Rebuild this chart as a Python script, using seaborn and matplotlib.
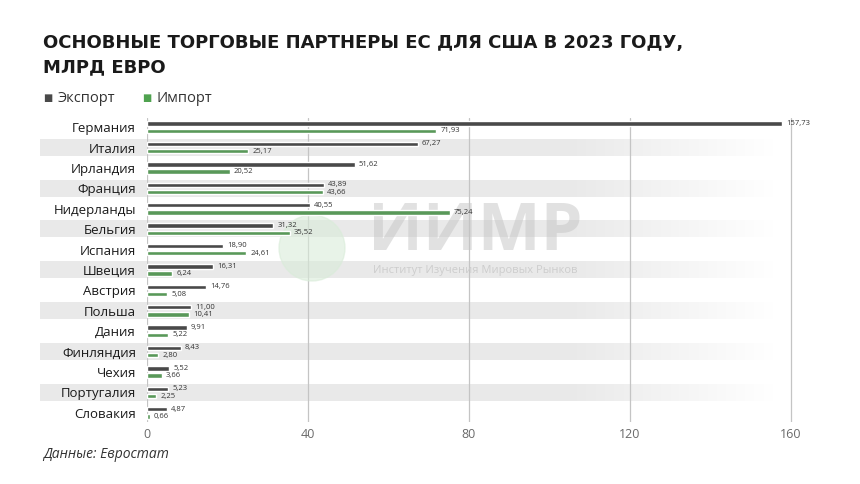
import numpy as np
import pandas as pd
import matplotlib.pyplot as plt
import seaborn as sns
from matplotlib.patches import Ellipse

# Data
countries = ['Германия', 'Италия', 'Ирландия', 'Франция', 'Нидерланды', 'Бельгия',
             'Испания', 'Швеция', 'Австрия', 'Польша', 'Дания', 'Финляндия',
             'Чехия', 'Португалия', 'Словакия']
export_vals = [157.73, 67.27, 51.62, 43.89, 40.55, 31.32, 18.90, 16.31,
               14.76, 11.00, 9.91, 8.43, 5.52, 5.23, 4.87]
import_vals = [71.93, 25.17, 20.52, 43.66, 75.24, 35.52, 24.61, 6.24,
               5.08, 10.41, 5.22, 2.80, 3.66, 2.25, 0.66]
series = ['Экспорт', 'Импорт']
x_ticks = [0, 40, 80, 120, 160]

df = pd.DataFrame({
    'country': countries * 2,
    'type': [series[0]] * len(countries) + [series[1]] * len(countries),
    'value': export_vals + import_vals,
})

sns.set_style('white')
plt.rcParams['font.family'] = ['Open Sans', 'DejaVu Sans']

dark = '#494949'
green = '#4fa24f'

fig = plt.figure(figsize=(8.6, 4.84), dpi=100)
ax = fig.add_axes([147 / 860, 62 / 484, 652 / 860, 304 / 484])

# Alternating stripes that fade out to the right
grad = np.ones((1, 256, 4))
grad[..., :3] = 0.915
fade = np.clip((np.linspace(0, 1, 256) - 0.72) / 0.28, 0, 1)
grad[..., 3] = 1 - fade
for i in range(1, len(countries), 2):
    ax.imshow(grad, extent=(-26.6, 156, i + 0.4, i - 0.4), aspect='auto',
              clip_on=False, zorder=0, interpolation='bilinear')

for t in x_ticks:
    ax.axvline(t, color='#c4c4c4', lw=0.9, zorder=0.5)

# Watermark (behind the bars)
ax.add_patch(Ellipse((312 / 860, 1 - 248 / 484), 66 / 860, 66 / 484,
                     transform=fig.transFigure, color='#d9ecd9', alpha=0.6,
                     zorder=1, clip_on=False))
ax.text(475 / 860, 1 - 233 / 484, 'ИИМР', fontsize=48, fontweight='bold',
        color='#c4c4c4', alpha=0.5, ha='center', va='center', zorder=1,
        transform=fig.transFigure)
ax.text(475 / 860, 1 - 271 / 484, 'Институт Изучения Мировых Рынков', fontsize=8,
        color='#cdcdcd', ha='center', va='center', zorder=1,
        transform=fig.transFigure)

sns.barplot(data=df, y='country', x='value', hue='type', orient='h',
            palette=[dark, green], width=0.72, gap=0.4, legend=False,
            ax=ax, zorder=2)

for c in ax.containers:
    labels = [f'{v:.2f}'.replace('.', ',') for v in c.datavalues]
    ax.bar_label(c, labels=labels, padding=3, fontsize=5.5, color='#333333', zorder=3)

ax.set_xlim(0, 162)
ax.set_ylim(len(countries) - 0.55, -0.45)
ax.set_xticks(x_ticks)
ax.set_xlabel('')
ax.set_ylabel('')
for s in ax.spines.values():
    s.set_visible(False)
ax.tick_params(axis='y', length=0, pad=8, labelsize=9.5, labelcolor='#1a1a1a')
ax.tick_params(axis='x', length=0, pad=4, labelsize=9, labelcolor='#6a6a6a')

# Title, legend, source
title_font = ['DejaVu Sans']
fig.text(43 / 860, 1 - 48 / 484, 'ОСНОВНЫЕ ТОРГОВЫЕ ПАРТНЕРЫ ЕС ДЛЯ США В 2023 ГОДУ,',
         fontsize=13, fontweight='bold', color='#1a1a1a', va='baseline',
         family=title_font)
fig.text(43 / 860, 1 - 72 / 484, 'МЛРД ЕВРО',
         fontsize=13, fontweight='bold', color='#1a1a1a', va='baseline',
         family=title_font)

for x0, name, col in [(43, series[0], dark), (142, series[1], green)]:
    fig.text(x0 / 860, 1 - 98 / 484, '■', fontsize=7, color=col, va='center')
    fig.text((x0 + 15) / 860, 1 - 98 / 484, name, fontsize=10.5, color='#333333', va='center')

fig.text(43 / 860, 1 - 455 / 484, 'Данные: Евростат', fontsize=10, style='italic',
         color='#333333', va='center')

fig.savefig('out.png', dpi=100)
